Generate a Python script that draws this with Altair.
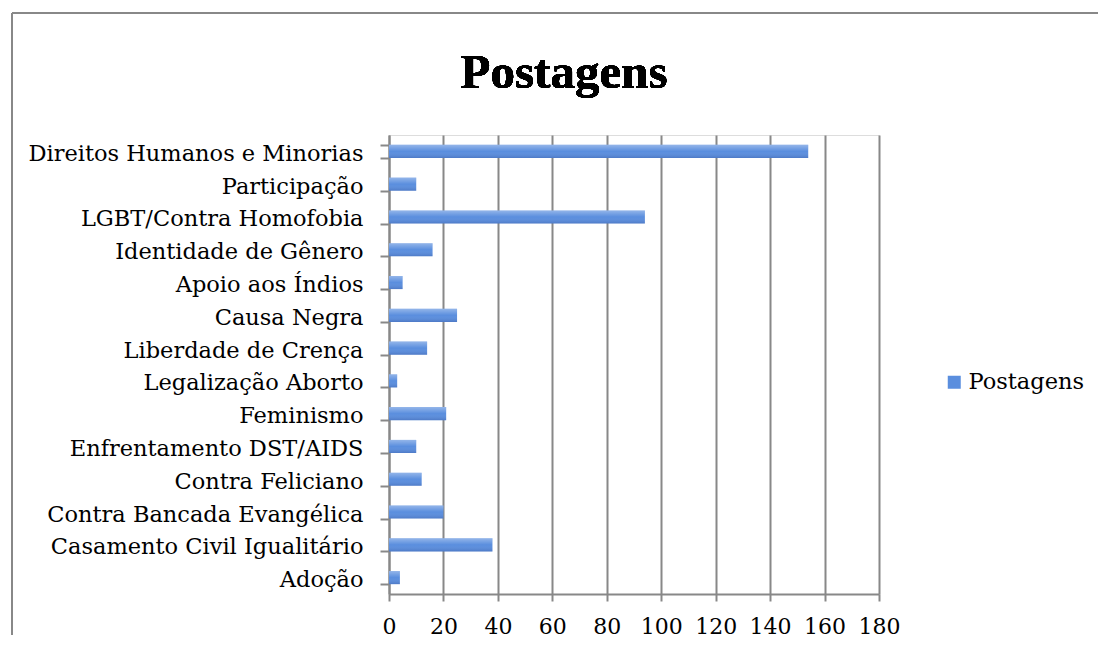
import altair as alt
import pandas as pd

categories = [
    "Direitos Humanos e Minorias",
    "Participação",
    "LGBT/Contra Homofobia",
    "Identidade de Gênero",
    "Apoio aos Índios",
    "Causa Negra",
    "Liberdade de Crença",
    "Legalização Aborto",
    "Feminismo",
    "Enfrentamento DST/AIDS",
    "Contra Feliciano",
    "Contra Bancada Evangélica",
    "Casamento Civil Igualitário",
    "Adoção",
]
values = [154, 10, 94, 16, 5, 25, 14, 3, 21, 10, 12, 20, 38, 4]
series_name = "Postagens"
x_ticks = [0, 20, 40, 60, 80, 100, 120, 140, 160, 180]

df = pd.DataFrame({"categoria": categories, "valor": values, "serie": series_name})

FONT = "DejaVu Serif"
GRAY = "#888888"

y_enc = alt.Y(
    "categoria:N",
    sort=categories,
    title=None,
    scale=alt.Scale(paddingInner=0.6, paddingOuter=0.3),
    axis=alt.Axis(
        tickBand="extent",
        labelFont=FONT,
        labelFontSize=22.5,
        labelColor="#000000",
        labelPadding=17,
        labelOffset=2,
        tickSize=9,
        tickColor=GRAY,
        tickWidth=2,
        domainColor=GRAY,
        domainWidth=2,
        grid=False,
        labelLimit=400,
    ),
)
x_enc = alt.X(
    "valor:Q",
    title=None,
    scale=alt.Scale(domain=[0, 180], nice=False),
    axis=alt.Axis(
        values=x_ticks,
        labelFont=FONT,
        labelFontSize=22,
        labelColor="#000000",
        labelPadding=15,
        labelOverlap=False,
        labelFlush=False,
        tickSize=7,
        tickColor=GRAY,
        tickWidth=2,
        domainColor=GRAY,
        domainWidth=2,
        grid=True,
        gridColor=GRAY,
        gridWidth=2,
        gridOpacity=1,
    ),
)

bars = alt.Chart(df).mark_bar().encode(
    y=y_enc,
    x=x_enc,
    color=alt.Color(
        "serie:N",
        title=None,
        scale=alt.Scale(range=["#5a8ede"]),
        legend=alt.Legend(
            orient="none",
            legendX=554,
            legendY=236,
            symbolType="square",
            symbolSize=169,
            symbolStrokeWidth=0,
            labelFont=FONT,
            labelFontSize=22.5,
            labelColor="#000000",
            labelOffset=3,
        ),
    ),
)

shine = alt.Chart(df).mark_bar(
    fill=alt.Gradient(
        gradient="linear",
        x1=0, y1=0, x2=0, y2=1,
        stops=[
            alt.GradientStop(color="rgba(255,255,255,0.35)", offset=0),
            alt.GradientStop(color="rgba(255,255,255,0.0)", offset=0.5),
            alt.GradientStop(color="rgba(0,0,60,0.15)", offset=1),
        ],
    )
).encode(y=alt.Y("categoria:N", sort=categories), x="valor:Q")

title_text = alt.Chart(df).mark_text(
    text="Postagens",
    font="Liberation Serif",
    fontWeight="bold",
    fontSize=49,
    align="center",
    baseline="alphabetic",
    color="#000000",
).encode(x=alt.value(175), y=alt.value(-47))

frame_left = alt.Chart(df).mark_rule(color=GRAY, strokeWidth=2).encode(
    x=alt.value(-377), y=alt.value(-122), y2=alt.value(500)
)
frame_top = alt.Chart(df).mark_rule(color=GRAY, strokeWidth=2).encode(
    x=alt.value(-377), x2=alt.value(709), y=alt.value(-122)
)

chart = alt.layer(bars, shine, title_text, frame_left, frame_top).properties(
    width=490,
    height=459,
    padding={"left": 3, "top": 4, "right": 0, "bottom": 0},
).configure_view(stroke=None).configure(background="#ffffff")

chart.save("out.html", embed_options={"renderer": "svg", "actions": False})
